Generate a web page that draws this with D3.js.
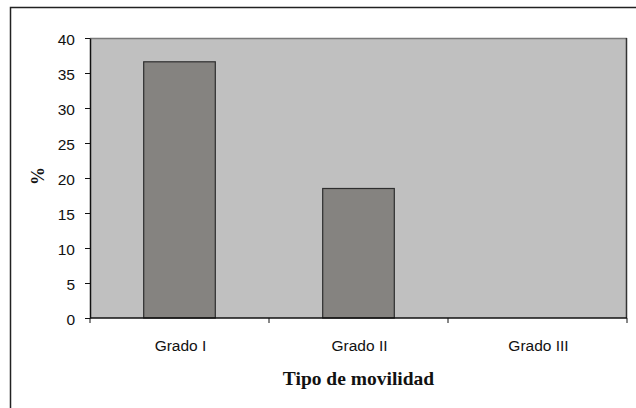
<!DOCTYPE html>
<html>
<head>
<meta charset="utf-8">
<script src="https://cdn.jsdelivr.net/npm/d3@7"></script>
<style>
  html, body { margin: 0; padding: 0; background: #fff; }
  svg { display: block; }
</style>
</head>
<body>
<svg id="chart" width="636" height="408"></svg>
<script>
// Mobility grade categories and their share (%)
const categories = ["Grado I", "Grado II", "Grado III"];
const values = [36.6, 18.5, 0];
const yTicks = [0, 5, 10, 15, 20, 25, 30, 35, 40];
const xTitle = "Tipo de movilidad";
const yTitle = "%";

const svg = d3.select("#chart");
const plot = { left: 90, right: 627, top: 38, bottom: 318 };

// Outer frame of the chart area
svg.append("rect")
  .attr("x", 10.5).attr("y", 7.5)
  .attr("width", 700).attr("height", 500)
  .attr("fill", "#fff")
  .attr("stroke", "#222").attr("stroke-width", 1.5);

const x = d3.scaleBand()
  .domain(categories)
  .range([plot.left, plot.right])
  .paddingInner(0.6)
  .paddingOuter(0.3);

const y = d3.scaleLinear()
  .domain([0, 40])
  .range([plot.bottom, plot.top]);

// Plot background
svg.append("rect")
  .attr("x", plot.left).attr("y", plot.top)
  .attr("width", plot.right - plot.left)
  .attr("height", plot.bottom - plot.top)
  .attr("fill", "#c0c0c0");

// Plot border: gray top, dark right
svg.append("line")
  .attr("x1", plot.left).attr("x2", plot.right)
  .attr("y1", plot.top + 0.5).attr("y2", plot.top + 0.5)
  .attr("stroke", "#7a7a7a").attr("stroke-width", 1.5);
svg.append("line")
  .attr("x1", plot.right - 0.5).attr("x2", plot.right - 0.5)
  .attr("y1", plot.top).attr("y2", plot.bottom)
  .attr("stroke", "#333").attr("stroke-width", 1.5);

// Bars
svg.append("g").selectAll("rect")
  .data(values)
  .join("rect")
  .attr("x", (d, i) => x(categories[i]))
  .attr("y", d => y(d))
  .attr("width", x.bandwidth())
  .attr("height", d => y(0) - y(d))
  .attr("fill", "#858380")
  .attr("stroke", "#2e2e2e")
  .attr("stroke-width", d => d > 0 ? 1.2 : 0);

// Y axis
const yAxis = svg.append("g")
  .attr("transform", `translate(${plot.left},0)`)
  .call(d3.axisLeft(y).tickValues(yTicks).tickSize(5).tickPadding(10).tickSizeOuter(0));
yAxis.select(".domain").attr("stroke", "#111").attr("stroke-width", 1.5);
yAxis.selectAll(".tick line").attr("stroke", "#111");
yAxis.selectAll("text")
  .attr("font-family", "'Liberation Sans', Arial, sans-serif")
  .attr("font-size", 15.5)
  .attr("fill", "#111")
  .attr("dy", "0.4em");

// X axis with ticks at category boundaries
const xAxisG = svg.append("g")
  .attr("transform", `translate(0,${plot.bottom})`);
xAxisG.append("line")
  .attr("x1", plot.left).attr("x2", plot.right)
  .attr("stroke", "#111").attr("stroke-width", 1.5);
const step = x.step();
const boundaries = categories.map((c, i) => x(c) + x.bandwidth() / 2 - step / 2).concat([plot.right]);
xAxisG.selectAll("line.tk")
  .data(boundaries)
  .join("line")
  .attr("class", "tk")
  .attr("x1", d => d).attr("x2", d => d)
  .attr("y1", 0).attr("y2", 5)
  .attr("stroke", "#111");
xAxisG.selectAll("text")
  .data(categories)
  .join("text")
  .attr("x", d => x(d) + x.bandwidth() / 2 + 1)
  .attr("y", 33)
  .attr("text-anchor", "middle")
  .attr("font-family", "'Liberation Sans', Arial, sans-serif")
  .attr("font-size", 15.5)
  .attr("fill", "#111")
  .text(d => d);

// Axis titles
svg.append("text")
  .attr("x", (plot.left + plot.right) / 2)
  .attr("y", 385)
  .attr("text-anchor", "middle")
  .attr("font-family", "'Liberation Serif', 'Times New Roman', serif")
  .attr("font-weight", "bold")
  .attr("font-size", 19.5)
  .attr("fill", "#111")
  .text(xTitle);

svg.append("text")
  .attr("transform", "translate(44,176) rotate(-90)")
  .attr("text-anchor", "middle")
  .attr("font-family", "'Liberation Serif', 'Times New Roman', serif")
  .attr("font-weight", "bold")
  .attr("font-size", 18)
  .attr("fill", "#111")
  .text(yTitle);
</script>
</body>
</html>
